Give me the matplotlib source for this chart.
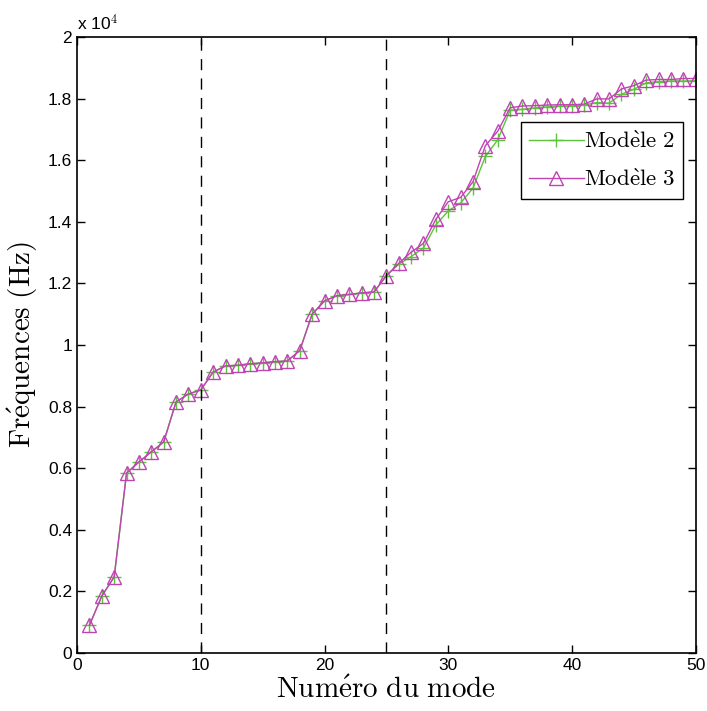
import matplotlib
matplotlib.use('Agg')
import matplotlib.pyplot as plt

modes = list(range(1, 51))

modele_2 = [900, 1850, 2470, 5840, 6200, 6530, 6850, 8150, 8410, 8540,
            9120, 9320, 9340, 9390, 9420, 9460, 9480, 9820, 11000, 11430,
            11600, 11640, 11690, 11720, 12250, 12620, 12870, 13150, 13900, 14350,
            14610, 15090, 16120, 16660, 17620, 17650, 17700, 17730, 17750, 17760,
            17790, 17870, 17850, 18140, 18300, 18510, 18550, 18570, 18570, 18580]

modele_3 = [900, 1850, 2470, 5840, 6200, 6530, 6850, 8150, 8410, 8540,
            9120, 9320, 9340, 9390, 9420, 9460, 9480, 9820, 11000, 11430,
            11600, 11640, 11690, 11720, 12250, 12650, 13010, 13300, 14080, 14650,
            14790, 15300, 16470, 16940, 17700, 17760, 17770, 17790, 17800, 17800,
            17820, 17990, 17990, 18310, 18420, 18600, 18620, 18620, 18650, 18650]

separations = [10, 25]
y_ticks = [0, 2000, 4000, 6000, 8000, 10000, 12000, 14000, 16000, 18000, 20000]
y_labels = ['0', '0.2', '0.4', '0.6', '0.8', '1', '1.2', '1.4', '1.6', '1.8', '2']

plt.rcParams['mathtext.fontset'] = 'cm'
plt.rcParams['font.family'] = ['Liberation Sans', 'DejaVu Sans']

fig = plt.figure(figsize=(7.07, 7.11), dpi=100)
ax = fig.add_axes([0.109, 0.0816, 0.875, 0.8664])

green = '#5cc43c'
magenta = '#c043b4'

ax.plot(modes, modele_2, '-', color=green, marker='+', markersize=10,
        linewidth=1, label=r'$\mathrm{Mod\grave{e}le\ 2}$')
ax.plot(modes, modele_3, '-', color=magenta, marker='^', markersize=9.5,
        markerfacecolor='none', markeredgewidth=1, linewidth=1,
        label=r'$\mathrm{Mod\grave{e}le\ 3}$')

for s in separations:
    ax.axvline(s, color='black', linestyle=(0, (8, 6)), linewidth=1)

ax.set_xlim(0, 50)
ax.set_ylim(0, 20000)
ax.set_xticks([0, 10, 20, 30, 40, 50])
ax.set_yticks(y_ticks, labels=y_labels)
ax.tick_params(direction='in', top=True, right=True, labelsize=12.5, length=6, width=1)
for sp in ax.spines.values():
    sp.set_linewidth(1.2)

ax.text(0.0, 1.005, r'x 10$^{4}$', transform=ax.transAxes, fontsize=12.5,
        ha='left', va='bottom')

ax.set_xlabel(r'$\mathrm{Num\acute{e}ro\ du\ mode}$', fontsize=21, labelpad=2)
ax.set_ylabel(r'$\mathrm{Fr\acute{e}quences\ (Hz)}$', fontsize=21, labelpad=6)

leg = ax.legend(loc='upper right', bbox_to_anchor=(0.979, 0.862), fontsize=16.5,
                fancybox=False, framealpha=1, edgecolor='black',
                handlelength=2.4, handletextpad=0.0, borderpad=0.35,
                labelspacing=0.65, borderaxespad=0)
leg.get_frame().set_linewidth(1)

fig.savefig('out.png', dpi=100)
